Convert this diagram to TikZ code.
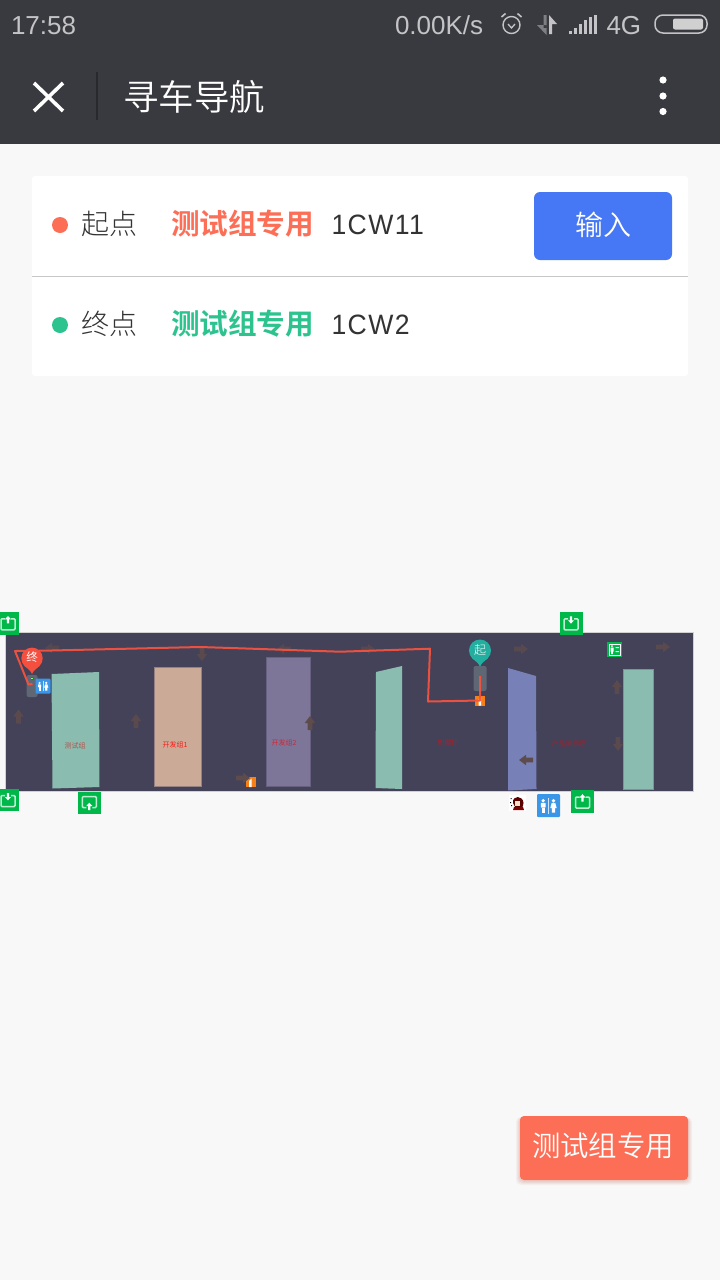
\documentclass[tikz,border=0pt]{standalone}
\usepackage{fontspec}
\setmainfont{Liberation Sans}
\newfontfamily\cjk{Noto Sans CJK SC}
\newfontfamily\cjkl{Noto Sans CJK SC Light}
\newfontfamily\cjkd{Noto Sans CJK SC DemiLight}
\newfontfamily\cjkm{Noto Sans CJK SC Bold}
\newfontfamily\rob[FakeStretch=0.95,LetterSpace=5]{Liberation Sans}
\definecolor{hdr}{HTML}{393A3F}
\definecolor{pagebg}{HTML}{F8F8F8}
\definecolor{coral}{HTML}{FC6E55}
\definecolor{mint}{HTML}{2DC38E}
\definecolor{btn}{HTML}{4678F5}
\definecolor{ink}{HTML}{333333}
\definecolor{stat}{HTML}{C4C4C6}
\definecolor{mapbg}{HTML}{444259}
\definecolor{tealz}{HTML}{8ABCAF}
\definecolor{tanz}{HTML}{CBAB98}
\definecolor{purz}{HTML}{7E7699}
\definecolor{bluz}{HTML}{7880B8}
\definecolor{route}{HTML}{F4523F}
\definecolor{arrowc}{HTML}{5E4B4C}
\definecolor{gicon}{HTML}{00B84A}
\definecolor{wc}{HTML}{3A97E8}
\definecolor{orangei}{HTML}{F67F18}
\definecolor{spot}{HTML}{5F6674}
\definecolor{pinteal}{HTML}{22AFA0}
\definecolor{pinred}{HTML}{F5503F}
\tikzset{
  txt/.style={inner sep=0pt,outer sep=0pt,anchor=west},
  ctxt/.style={inner sep=0pt,outer sep=0pt,anchor=center},
  maplabel/.style={inner sep=0pt,outer sep=0pt,anchor=center,font=\cjk\fontsize{7}{7}\selectfont},
  zone/.style={line width=0.8pt},
  iconline/.style={draw=white,line width=1.5pt,draw opacity=0.75},
}
% block arrow: x, y, rotation clockwise (0 = up), opacity
\newcommand{\blockarrow}[4]{%
  \begin{scope}[shift={(#1,#2)},rotate=-#3]
    \fill[arrowc,opacity=#4] (-2.4,7) -- (-2.4,0) -- (-5.2,0) -- (0,-7) -- (5.2,0) -- (2.4,0) -- (2.4,7) -- cycle;
  \end{scope}}
% green door icon: x, y, tray direction, arrow direction, half size
\newcommand{\greenicon}[5]{%
  \begin{scope}[shift={(#1,#2)}]
    \fill[gicon] (-#5,-#5) rectangle (#5,#5);
    \begin{scope}[yscale=#3]
      \draw[iconline,rounded corners=1pt] (-3,-4.5) -- (-7,-4.5) -- (-7,6.5) -- (7,6.5) -- (7,-4.5) -- (3,-4.5);
    \end{scope}
    \begin{scope}[shift={(0,-3.5*#3)},yscale=#4]
      \fill[white] (-1.1,-3.5) -- (-1.1,0.5) -- (-3,0.5) -- (0,3.8) -- (3,0.5) -- (1.1,0.5) -- (1.1,-3.5) -- cycle;
    \end{scope}
  \end{scope}}
% restroom icon: x, y, half size, scale
\newcommand{\wcicon}[4]{%
  \begin{scope}[shift={(#1,#2)}]
    \fill[wc,rounded corners=1pt] (-#3,-#3) rectangle (#3,#3);
    \begin{scope}[scale=#4]
      \fill[white] (-5.3,-4.8) circle (1.8pt);
      \fill[white,rounded corners=0.5pt] (-7.6,-2.6) rectangle (-3,2);
      \fill[white] (-6.8,2) rectangle (-3.8,7);
      \fill[white] (5,-4.8) circle (1.8pt);
      \fill[white] (3.2,-2.6) -- (6.8,-2.6) -- (8.2,2.5) -- (6.6,2.5) -- (6.6,7) -- (3.4,7) -- (3.4,2.5) -- (1.8,2.5) -- cycle;
      \fill[white,opacity=.75] (-0.5,-7.5) rectangle (0,8);
    \end{scope}
  \end{scope}}
\newcommand{\orangeicon}[2]{%
  \begin{scope}[shift={(#1,#2)}]
    \fill[orangei] (-5,-5) rectangle (5,5);
    \fill[white] (-1.5,-1) -- (1,-3.5) -- (1,5) -- (-1.5,5) -- cycle;
  \end{scope}}
% pin: x, y of circle centre, colour, radius
\newcommand{\mappin}[4]{%
  \begin{scope}[shift={(#1,#2)},scale=#4]
    \fill[#3] (0,0) circle (1pt);
    \fill[#3] (-.72,.69) .. controls (-.4,1) and (-.15,1.1) .. (0,1.47) .. controls (.15,1.1) and (.4,1) .. (.72,.69) -- cycle;
  \end{scope}}
\begin{document}
\begin{tikzpicture}[x=1pt,y=-1pt]
\useasboundingbox (0,0) rectangle (720,1280);
\fill[pagebg] (0,0) rectangle (720,1280);
% header
\fill[hdr] (0,0) rectangle (720,144);
\node[txt,text=stat,font=\fontsize{26}{26}\selectfont] (clock) at (11,25.5) {17:58};
\node[txt,text=stat,font=\fontsize{26}{26}\selectfont] (speed) at (395,25.5) {0.00K/s};
\node[txt,text=stat,font=\fontsize{26}{26}\selectfont] (net) at (606.5,25.5) {4G};
% alarm
\draw[stat,line width=1.4pt] (511.5,25) circle (8.5pt);
\draw[stat,line width=1.3pt] (508,24) -- (511.5,28) -- (515,24);
\draw[stat,line width=1.6pt] (501.5,17) -- (505.5,13.5) (521.5,17) -- (517.5,13.5);
% data arrows
\fill[stat!50!hdr] (543.5,15) rectangle (546.5,28) (537,25) -- (546.5,25) -- (546.5,35) -- cycle;
\fill[stat] (549,20) rectangle (552,34) (549,15) -- (549,24) -- (557,24) -- cycle;
% signal
\foreach \bx/\bt in {569/31,574/28,579/24,584/20,589/17,594/15}{
  \fill[stat] (\bx,\bt) rectangle (\bx+3,34);}
% battery
\draw[stat,line width=1.5pt,rounded corners=8pt] (655,15) rectangle (707,33);
\fill[stat!80!white,rounded corners=2pt] (673,18.5) rectangle (703,29.5);
% header controls
\draw[white,line width=3.6pt] (34,83) -- (63,111) (63,83) -- (34,111);
\draw[black!30!hdr,line width=1.2pt] (97,72) -- (97,120);
\node[txt,text=white,font=\cjkd\fontsize{35.5}{36}\selectfont] (title) at (123,97) {寻车导航};
\fill[white] (663,80) circle (3.6pt) (663,96) circle (3.6pt) (663,111.5) circle (3.6pt);
% card
\fill[white,rounded corners=3pt] (32,176) rectangle (688,376);
\draw[black!22,line width=1pt] (32,276.5) -- (688,276.5);
\fill[coral] (60,225) circle (8pt);
\fill[mint] (60,325) circle (8pt);
\node[txt,text=ink,font=\cjkl\fontsize{28}{28}\selectfont] (startlab) at (81,224) {起点};
\node[txt,text=ink,font=\cjkl\fontsize{28}{28}\selectfont] (endlab) at (81,324) {终点};
\node[txt,text=coral,font=\cjkm\fontsize{28.6}{28}\selectfont] (startgrp) at (171,224) {测试组专用};
\node[txt,text=mint,font=\cjkm\fontsize{28.6}{28}\selectfont] (endgrp) at (171,324) {测试组专用};
\node[txt,text=ink,font=\rob\fontsize{28}{28}\selectfont] (startcode) at (331.5,225) {1CW11};
\node[txt,text=ink,font=\rob\fontsize{28}{28}\selectfont] (endcode) at (331.5,325) {1CW2};
\fill[btn,rounded corners=6pt] (534,192) rectangle (672,260);
\node[ctxt,text=white,font=\cjkd\fontsize{28}{28}\selectfont] (inputbtn) at (603,225) {输入};
% map
\fill[mapbg] (5.5,632.5) rectangle (693.5,791);
\draw[black!18!white,line width=1pt] (5.5,791) -- (5.5,632.5) -- (693.5,632.5) -- (693.5,791) -- cycle;
% zones
\fill[tealz] (51.5,674) -- (99,672) -- (99.5,787) -- (52.5,788.5) -- cycle;
\draw[zone,draw=tanz!60!mapbg,fill=tanz] (154.5,667.5) rectangle (201.5,786.5);
\draw[zone,draw=purz!60!mapbg,fill=purz] (266.5,657.5) rectangle (310.5,786.5);
\fill[tealz] (376,672) -- (402,666) -- (402,789) -- (375.5,788) -- cycle;
\fill[bluz] (508,668) -- (536,676) -- (536.5,789) -- (508,790.5) -- cycle;
\draw[zone,draw=tealz!70!mapbg,fill=tealz] (623.5,669) rectangle (653.5,789);
% zone labels
\node[maplabel,text=red!50!tealz!90!black] (z1) at (75,745.5) {测试组};
\node[maplabel,text=red!85!tanz] (z2) at (175,744.5) {开发组1};
\node[maplabel,text=red!70!purz] (z3) at (284,742.5) {开发组2};
\node[maplabel,text=red!70!mapbg] (z4) at (448,742.5) {新展厅};
\node[maplabel,text=red!45!mapbg] (z5) at (569,743.5) {产品演示厅};
% parking spots
\fill[spot,rounded corners=2pt] (26.7,675) rectangle (37.5,697);
\fill[spot,rounded corners=2pt] (473.5,666) rectangle (486.5,691);
% icons in map
\orangeicon{250.5}{782}
\orangeicon{480}{700.5}
\wcicon{43}{686}{7.5}{0.65}
\begin{scope}[shift={(614.5,649.5)}]
  \fill[gicon] (-7.5,-7.5) rectangle (7.5,7.5);
  \draw[white,line width=.7pt] (-5.5,-5.5) rectangle (5.5,5.5);
  \fill[white] (-2.5,-3.4) circle (1.1pt) (-4,-2) rectangle (-1,2) (-3.3,2) rectangle (-1.7,4.5);
  \fill[white] (1,-2.5) rectangle (4.5,-1.5) (1,1.5) rectangle (4.5,2.5);
\end{scope}
\fill[green!60!black] (30.5,677) rectangle (33.5,680);
\fill[green!50!white] (31.3,677.8) rectangle (32.7,679.2);
% arrows
\blockarrow{18.5}{716.5}{0}{.85}
\blockarrow{136}{721}{0}{.9}
\blockarrow{52}{648}{-90}{.75}
\blockarrow{202}{654}{180}{.9}
\blockarrow{284}{649}{-90}{.75}
\blockarrow{368}{649}{90}{.75}
\blockarrow{310}{723}{0}{1}
\blockarrow{243}{778}{90}{1}
\blockarrow{521}{649}{90}{.8}
\blockarrow{663}{647}{90}{.85}
\blockarrow{617}{687}{0}{.85}
\blockarrow{618}{744}{180}{.85}
\blockarrow{526}{760}{-90}{1}
% route
\draw[route,line width=2pt,line join=round,opacity=.95]
  (480,676) -- (480,700.5) -- (428,701.5) -- (430,648.7) -- (340,651.7) -- (240,648.3) -- (200,647) -- (43,650.7) -- (15,651) -- (28.5,684.5) -- (32.5,684);
% pins
\mappin{32}{658.3}{pinred}{10.7}
\node[ctxt,text=white,font=\cjk\fontsize{11.5}{11}\selectfont] (pinend) at (32,657.5) {终};
\mappin{480}{650.5}{pinteal}{11}
\node[ctxt,text=white,font=\cjkl\fontsize{12}{11}\selectfont] (pinstart) at (480,650) {起};
% green doors around map
\greenicon{8}{623.3}{1}{-1}{11.3}
\greenicon{571}{623.3}{1}{1}{11.5}
\greenicon{8}{800}{1}{1}{11}
\greenicon{89.3}{803}{-1}{-1}{11.3}
\greenicon{582.5}{801.5}{1}{-1}{11.5}
% restroom large
\wcicon{548.5}{805.5}{11.5}{1}
% avatar
\begin{scope}[shift={(518,803)}]
  \fill[white] (-9,-8) rectangle (8,8);
  \fill[black!65!red] (-5,0) .. controls (-6,-8) and (5,-8) .. (5.5,0) .. controls (6,3) and (4,5) .. (2,5) -- (-3,4) -- cycle;
  \fill[orange!25!white] (-3,-2) rectangle (2,3);
  \fill[red!50!black] (-4,4) -- (5,4) -- (6,7) -- (-5,7) -- cycle;
  \fill[black] (-7.5,-5) rectangle (-6.5,-4) (-8,-1) rectangle (-7,0) (-7,2) rectangle (-6,3);
\end{scope}
% floating button
\foreach \s/\o in {4/.05,3/.06,2/.07,1/.08}{
  \fill[coral!70!black,opacity=\o,rounded corners=5pt] (520-\s,1116+1) rectangle (688+\s,1180+\s+1);}
\fill[coral,rounded corners=4pt] (520,1116) rectangle (688,1180);
\node[ctxt,text=white,font=\cjkd\fontsize{28.4}{28}\selectfont] (fab) at (603,1146) {测试组专用};
\end{tikzpicture}
\end{document}
